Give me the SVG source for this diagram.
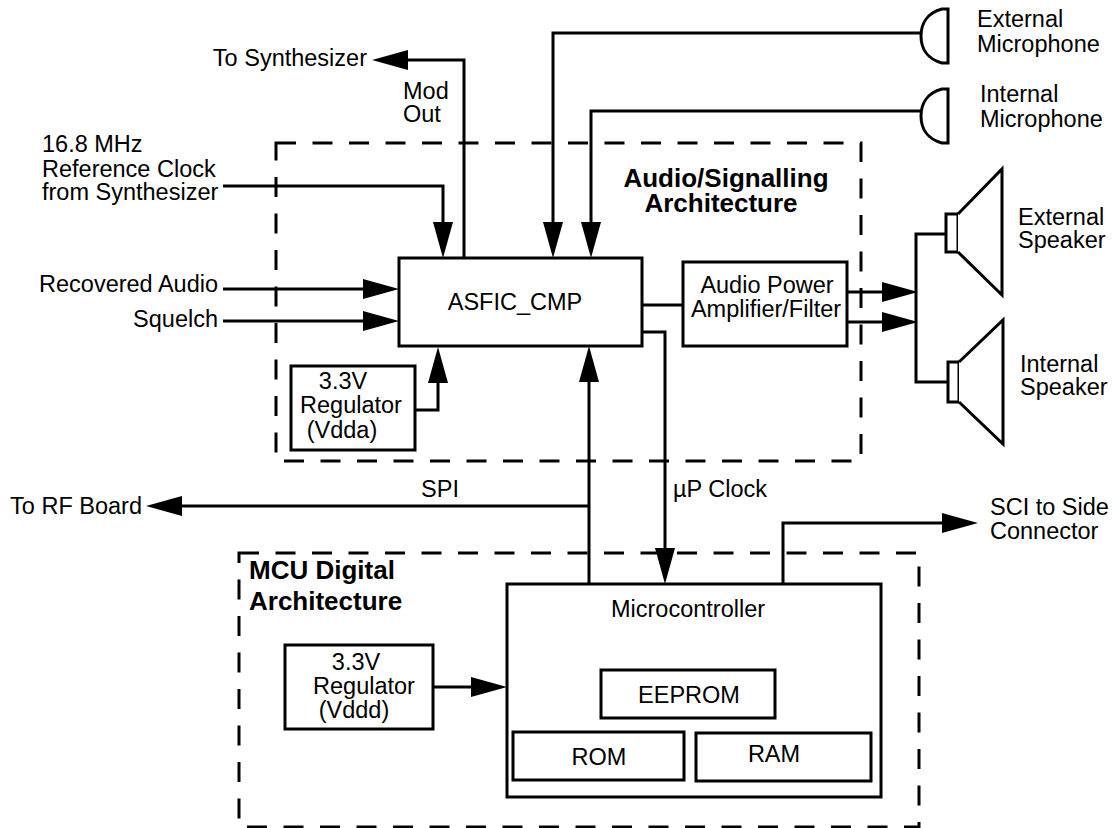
<svg xmlns="http://www.w3.org/2000/svg" width="1115" height="828" viewBox="0 0 1115 828">
<style>
  text { font-family: "Liberation Sans", Arial, sans-serif; font-size: 23.5px; fill: #000; }
  .title { font-weight: bold; font-size: 26px; }
  .mid { text-anchor: middle; }
  .end { text-anchor: end; }
  .box { fill: #fff; stroke: #000; stroke-width: 3; }
  .dash { fill: none; stroke: #000; stroke-width: 3; stroke-dasharray: 20 16.5; }
  .wire { fill: none; stroke: #000; stroke-width: 3; }
  .arr { fill: none; stroke: #000; stroke-width: 3; marker-end: url(#ah); }
  .sym { fill: #fff; stroke: #000; stroke-width: 3; stroke-linejoin: miter; }
</style>
<defs>
  <marker id="ah" viewBox="0 0 36 20" markerWidth="36" markerHeight="20" markerUnits="userSpaceOnUse" refX="28" refY="10" orient="auto">
    <path d="M0,0 L36,10 L0,20 Z" fill="#000"/>
  </marker>
</defs>
<rect width="1115" height="828" fill="#fff"/>

<g id="audio-architecture">
  <rect class="dash" x="276" y="143" width="585" height="318"/>
  <text class="title mid"><tspan x="726" y="187">Audio/Signalling</tspan><tspan x="721" y="212">Architecture</tspan></text>
</g>
<g id="mcu-architecture">
  <rect class="dash" x="239" y="553" width="680" height="274"/>
  <text class="title"><tspan x="249" y="579">MCU Digital</tspan><tspan x="249" y="610">Architecture</tspan></text>
</g>

<g id="connectors">
  <path class="arr" d="M464,258 V60 H380"/>
  <path class="arr" d="M223,186 H443 V250"/>
  <path class="arr" d="M921,33 H553 V250"/>
  <path class="arr" d="M921,111 H591 V250"/>
  <path class="arr" d="M223,289 H391"/>
  <path class="arr" d="M223,321 H391"/>
  <path class="arr" d="M415,410 H438 V355"/>
  <path class="wire" d="M642,305 H683"/>
  <path class="arr" d="M847,292 H910"/>
  <path class="arr" d="M847,322 H910"/>
  <path class="wire" d="M946,234 H916 V382 H948"/>
  <path class="arr" d="M642,332 H665 V576"/>
  <path class="arr" d="M589,584 V354"/>
  <path class="arr" d="M589,506 H154"/>
  <path class="arr" d="M783,584 V523 H970"/>
  <path class="arr" d="M433,687 H499"/>
</g>

<g id="asfic">
  <rect class="box" x="399" y="258" width="243" height="88"/>
  <text class="mid" x="515" y="310">ASFIC_CMP</text>
</g>
<g id="reg-vdda">
  <rect class="box" x="291" y="366" width="124" height="84"/>
  <text class="mid"><tspan x="343" y="389">3.3V</tspan><tspan x="351" y="413">Regulator</tspan><tspan x="342" y="438">(Vdda)</tspan></text>
</g>
<g id="audio-amp">
  <rect class="box" x="683" y="262" width="164" height="84"/>
  <text class="mid"><tspan x="767" y="293">Audio Power</tspan><tspan x="766" y="317">Amplifier/Filter</tspan></text>
</g>
<g id="ext-mic">
  <path class="sym" d="M948,9 L942,9 C927,13 921,24 921,36 C921,48 927,59 942,63 L948,63 Z"/>
  <text><tspan x="977" y="27">External</tspan><tspan x="977" y="52">Microphone</tspan></text>
</g>
<g id="int-mic">
  <path class="sym" d="M948,89 L942,89 C927,93 921,104 921,116 C921,128 927,139 942,143 L948,143 Z"/>
  <text><tspan x="980" y="102">Internal</tspan><tspan x="980" y="127">Microphone</tspan></text>
</g>
<g id="ext-speaker">
  <rect class="sym" x="946" y="214" width="12" height="38"/>
  <path class="sym" d="M958,214 L1002,169 L1002,295 L958,252"/>
  <text><tspan x="1018" y="225">External</tspan><tspan x="1018" y="248">Speaker</tspan></text>
</g>
<g id="int-speaker">
  <rect class="sym" x="948" y="362" width="11" height="40"/>
  <path class="sym" d="M959,362 L1003,320 L1003,444 L959,402"/>
  <text><tspan x="1020" y="372">Internal</tspan><tspan x="1020" y="395">Speaker</tspan></text>
</g>
<g id="microcontroller">
  <rect class="box" x="507" y="584" width="374" height="213"/>
  <text class="mid" x="688" y="617">Microcontroller</text>
</g>
<g id="eeprom">
  <rect class="box" x="601" y="670" width="174" height="48"/>
  <text class="mid" x="689" y="703">EEPROM</text>
</g>
<g id="rom">
  <rect class="box" x="513" y="732" width="171" height="48"/>
  <text class="mid" x="599" y="765">ROM</text>
</g>
<g id="ram">
  <rect class="box" x="696" y="733" width="175" height="48"/>
  <text class="mid" x="774" y="762">RAM</text>
</g>
<g id="reg-vddd">
  <rect class="box" x="285" y="645" width="148" height="84"/>
  <text class="mid"><tspan x="356" y="670">3.3V</tspan><tspan x="364" y="694">Regulator</tspan><tspan x="354" y="718">(Vddd)</tspan></text>
</g>

<g id="labels">
  <text class="end" x="367" y="66">To Synthesizer</text>
  <text><tspan x="403" y="99">Mod</tspan><tspan x="403" y="122">Out</tspan></text>
  <text><tspan x="42" y="152">16.8 MHz</tspan><tspan x="42" y="177">Reference Clock</tspan><tspan x="42" y="200">from Synthesizer</tspan></text>
  <text class="end" x="218" y="292">Recovered Audio</text>
  <text class="end" x="218" y="327">Squelch</text>
  <text class="end" x="142" y="514">To RF Board</text>
  <text class="mid" x="440" y="497">SPI</text>
  <text x="673" y="497">µP Clock</text>
  <text><tspan x="990" y="515">SCI to Side</tspan><tspan x="990" y="539">Connector</tspan></text>
</g>
</svg>
